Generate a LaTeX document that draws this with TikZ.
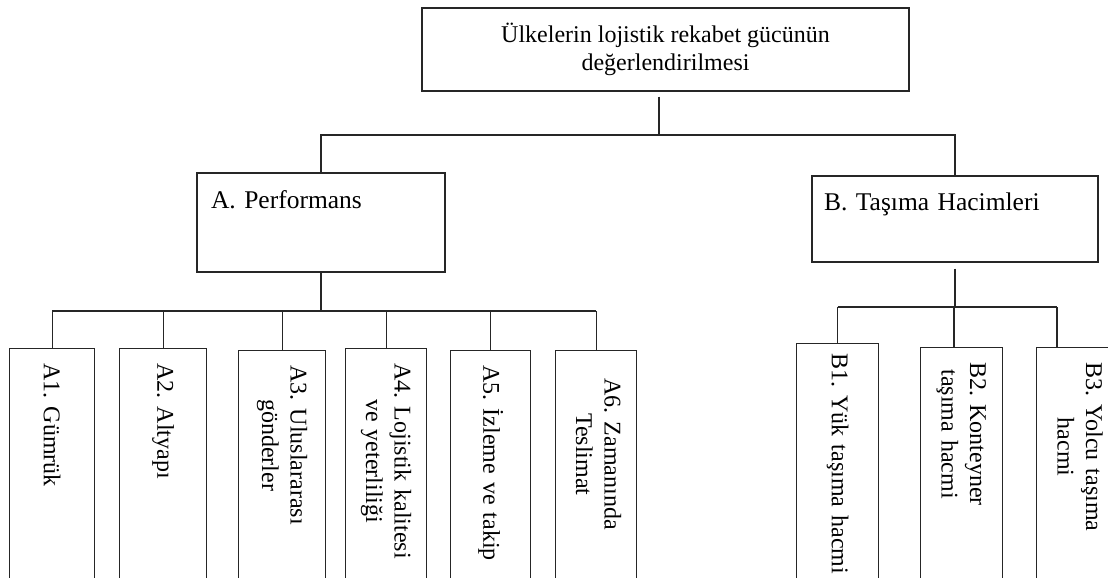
\documentclass[tikz,border=0pt]{standalone}
\usepackage{fontspec}
\setmainfont{Liberation Serif}
\frenchspacing

\newcommand{\twolines}[2]{\begin{tabular}{@{}c@{}}#1\\#2\end{tabular}}

\tikzset{
  box/.style={draw=black!85, line width=1.2pt, inner sep=0pt},
  sub/.style={box, rotate=-90, anchor=south west, text width=230pt,
              inner xsep=15pt, align=left},
  link/.style={draw=black!85, line width=1.2pt}
}

\begin{document}
\begin{tikzpicture}[x=1pt,y=-1pt,font=\fontsize{24}{28.5}\selectfont]

   \useasboundingbox (0,0) rectangle (1108,578);

   \node (top) at (665.5,49.5) [box, minimum width=487pt, minimum height=83pt, align=center] {Ülkelerin lojistik rekabet gücünün\\değerlendirilmesi};

   \node (A) at (321,222.5) [box, text width=220pt, inner xsep=14pt, text height=35pt, text depth=64pt, align=left, font=\fontsize{25.5}{30}\selectfont] {A. Performans};
   \node (B) at (955,219) [box, text width=262pt, inner xsep=12pt, text height=34pt, text depth=52pt, align=left, font=\fontsize{25.5}{30}\selectfont] {B. Taşıma Hacimleri};

   \node (A1) at (9,348) [sub, minimum height=85pt] {A1. Gümrük};
   \node (A2) at (119,348) [sub, minimum height=87pt] {A2. Altyapı};
   \node (A3) at (238,350) [sub, minimum height=87pt] {\twolines{A3. Uluslararası}{gönderler}};
   \node (A4) at (345,348) [sub, minimum height=81pt] {\twolines{A4. Lojistik kalitesi}{ve yeterliliği}};
   \node (A5) at (450,350) [sub, minimum height=80pt] {A5. İzleme ve takip};
   \node (A6) at (555,350) [sub, minimum height=81pt, inner xsep=28pt, text width=204pt] {\twolines{A6. Zamanında}{Teslimat}};

   \node (B1) at (796,343) [sub, minimum height=82pt, inner xsep=10pt, text width=240pt] {B1. Yük taşıma hacmi};
   \node (B2) at (920,347) [sub, minimum height=82pt] {\twolines{B2. Konteyner}{taşıma hacmi}};
   \node (B3) at (1036,347) [sub, minimum height=82pt] {\twolines{B3. Yolcu taşıma}{hacmi}};

   \coordinate (topbus) at (659,135);
   \coordinate (abus) at (321,311);
   \coordinate (bbus) at (955,307);
   \coordinate (bjoin2) at (954,307);
   \coordinate (bjoin3) at (1057,307);

   % top level
   \draw [link] ([yshift=-5pt]top.south -| topbus) -- (topbus);
   \draw [link] (A.north) -- (A.north |- topbus) -- (B.north |- topbus) -- (B.north);

   % performans branch
   \draw [link] (A.south) -- (abus);
   \draw [link] (A1.west |- abus) -- (A6.west |- abus);
   \foreach \n in {1,...,6}
      \draw [link] (A\n.west |- abus) -- (A\n.west);

   % tasima branch
   \draw [link] ([yshift=-6pt]B.south) -- (bbus);
   \draw [link] (B1.west |- bbus) -- (bjoin3);
   \draw [link] (B1.west |- bbus) -- (B1.west);
   \draw [link] (bjoin2) -- (bjoin2 |- B2.west);
   \draw [link] (bjoin3) -- (bjoin3 |- B3.west);

\end{tikzpicture}
\end{document}
